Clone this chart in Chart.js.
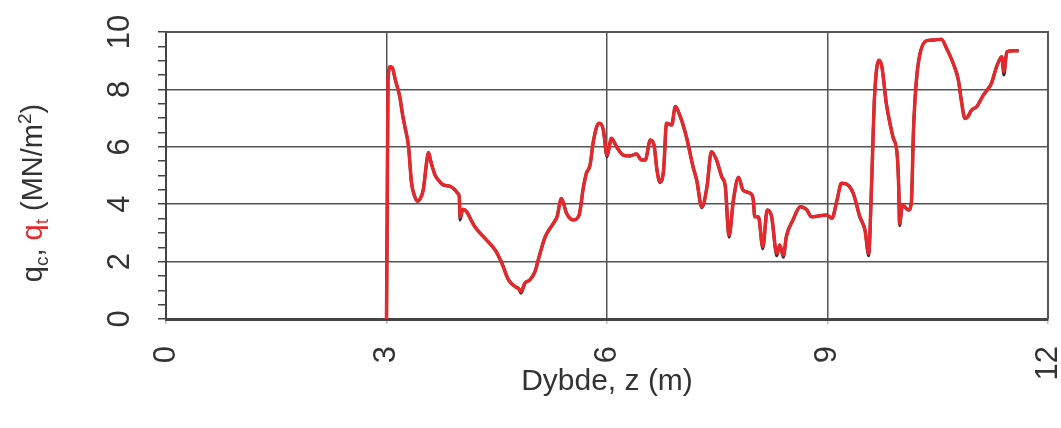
<!DOCTYPE html>
<html>
<head>
<meta charset="utf-8">
<script src="https://cdn.jsdelivr.net/npm/chart.js@4/dist/chart.umd.min.js"></script>
<style>
  html, body { margin: 0; padding: 0; background: #fff; }
  #wrap { width: 1061px; height: 428px; }
</style>
</head>
<body>
<div id="wrap"><canvas id="cpt"></canvas></div>
<script>
// CPT sounding: cone resistance vs depth
const depth = [
  3.00, 3.01, 3.02, 3.05, 3.08, 3.12, 3.18, 3.22, 3.25, 3.30,
  3.34, 3.38, 3.42, 3.46, 3.50, 3.55, 3.57, 3.61, 3.66, 3.72,
  3.77, 3.86, 3.93, 3.97, 3.99, 4.00, 4.04, 4.09, 4.15, 4.20,
  4.34, 4.48, 4.57, 4.66, 4.75, 4.80, 4.83, 4.88, 4.95, 5.02,
  5.07, 5.16, 5.27, 5.32, 5.38, 5.45, 5.54, 5.62, 5.68, 5.72,
  5.77, 5.81, 5.86, 5.90, 5.95, 6.00, 6.06, 6.13, 6.22, 6.31,
  6.40, 6.47, 6.52, 6.59, 6.64, 6.68, 6.72, 6.77, 6.81, 6.88,
  6.93, 6.99, 7.08, 7.17, 7.22, 7.29, 7.36, 7.42, 7.49, 7.56,
  7.61, 7.66, 7.72, 7.79, 7.85, 7.95, 7.99, 8.01, 8.06, 8.12,
  8.18, 8.24, 8.31, 8.35, 8.40, 8.44, 8.53, 8.63, 8.72, 8.78,
  8.90, 8.99, 9.06, 9.13, 9.19, 9.26, 9.35, 9.44, 9.51, 9.56,
  9.60, 9.64, 9.70, 9.74, 9.80, 9.89, 9.95, 9.97, 9.98, 10.02,
  10.10, 10.14, 10.17, 10.21, 10.26, 10.35, 10.45, 10.55, 10.62, 10.71,
  10.78, 10.82, 10.87, 10.91, 10.96, 11.03, 11.12, 11.19, 11.23, 11.30,
  11.35, 11.37, 11.40, 11.44, 11.53, 11.60
];

// measured cone resistance qc (MN/m2)
const qc = [
  0.00, 4.00, 8.30, 8.79, 8.75, 8.33, 7.75, 7.10, 6.70, 6.00,
  4.75, 4.30, 4.10, 4.20, 4.50, 5.54, 5.80, 5.42, 5.02, 4.80,
  4.67, 4.63, 4.50, 4.38, 4.26, 3.45, 3.82, 3.74, 3.45, 3.22,
  2.81, 2.40, 1.94, 1.36, 1.13, 1.05, 0.90, 1.24, 1.36, 1.65,
  2.11, 2.87, 3.33, 3.56, 4.20, 3.68, 3.45, 3.62, 4.61, 5.08,
  5.37, 6.12, 6.70, 6.82, 6.59, 5.65, 6.30, 6.00, 5.71, 5.68,
  5.75, 5.54, 5.54, 6.24, 6.06, 5.19, 4.75, 5.19, 6.82, 6.76,
  7.40, 7.10, 6.35, 5.31, 4.84, 3.88, 4.61, 5.83, 5.54, 4.96,
  4.61, 2.85, 4.15, 4.94, 4.49, 4.38, 4.15, 3.56, 3.56, 2.45,
  3.80, 3.56, 2.20, 2.58, 2.15, 2.87, 3.45, 3.91, 3.80, 3.56,
  3.60, 3.62, 3.51, 4.15, 4.73, 4.70, 4.38, 3.56, 3.10, 2.20,
  4.73, 7.75, 9.02, 8.79, 7.52, 6.35, 5.66, 4.49, 3.25, 3.97,
  3.80, 4.03, 6.59, 8.33, 9.26, 9.70, 9.72, 9.75, 9.43, 8.91,
  8.33, 7.63, 6.99, 7.05, 7.28, 7.40, 7.80, 8.04, 8.21, 8.79,
  9.08, 9.14, 8.50, 9.31, 9.35, 9.35
];

// corrected cone resistance qt (MN/m2)
const qt = [
  0.00, 4.00, 8.30, 8.79, 8.75, 8.33, 7.75, 7.10, 6.70, 6.00,
  4.75, 4.30, 4.12, 4.20, 4.50, 5.54, 5.80, 5.42, 5.02, 4.80,
  4.67, 4.63, 4.50, 4.38, 4.26, 3.56, 3.82, 3.74, 3.45, 3.22,
  2.81, 2.40, 1.94, 1.36, 1.13, 1.05, 0.95, 1.24, 1.36, 1.65,
  2.11, 2.87, 3.33, 3.56, 4.20, 3.68, 3.45, 3.62, 4.61, 5.08,
  5.37, 6.12, 6.70, 6.82, 6.59, 5.71, 6.30, 6.00, 5.71, 5.68,
  5.75, 5.54, 5.54, 6.24, 6.06, 5.19, 4.78, 5.19, 6.82, 6.76,
  7.40, 7.10, 6.35, 5.31, 4.84, 3.91, 4.61, 5.83, 5.54, 4.96,
  4.61, 2.93, 4.15, 4.94, 4.49, 4.38, 4.15, 3.56, 3.56, 2.52,
  3.80, 3.56, 2.29, 2.58, 2.23, 2.87, 3.45, 3.91, 3.80, 3.56,
  3.60, 3.62, 3.51, 4.15, 4.73, 4.70, 4.38, 3.56, 3.10, 2.29,
  4.73, 7.75, 9.02, 8.79, 7.52, 6.35, 5.66, 4.49, 3.33, 3.97,
  3.80, 4.03, 6.59, 8.33, 9.26, 9.70, 9.72, 9.75, 9.43, 8.91,
  8.33, 7.63, 6.99, 7.05, 7.28, 7.40, 7.80, 8.04, 8.21, 8.79,
  9.08, 9.14, 8.62, 9.31, 9.35, 9.35
];

const xTicks = [0, 3, 6, 9, 12];
const yTicks = [0, 2, 4, 6, 8, 10];

const FONT = "'Liberation Sans', Arial, sans-serif";
const INK = "#333";
const RED = "#e4282c";

const toPoints = (vals) => depth.map((z, i) => ({ x: z, y: vals[i] }));

// y-axis title with subscripts and a red q_t
const yTitle = {
  id: "yTitle",
  afterDraw(chart) {
    const ctx = chart.ctx;
    const parts = [
      { t: "q", c: INK, s: 29, dy: 0 },
      { t: "c", c: INK, s: 19, dy: 6 },
      { t: ", ", c: INK, s: 29, dy: 0 },
      { t: "q", c: RED, s: 29, dy: 0 },
      { t: "t", c: RED, s: 19, dy: 6 },
      { t: " (MN/m", c: INK, s: 29, dy: 0 },
      { t: "2", c: INK, s: 19, dy: -11 },
      { t: ")", c: INK, s: 29, dy: 0 },
    ];
    ctx.save();
    let total = 0;
    parts.forEach((p) => {
      ctx.font = p.s + "px " + FONT;
      p.w = ctx.measureText(p.t).width;
      total += p.w;
    });
    ctx.translate(42, 193);
    ctx.rotate(-Math.PI / 2);
    ctx.textBaseline = "alphabetic";
    ctx.textAlign = "left";
    let x = -total / 2;
    parts.forEach((p) => {
      ctx.font = p.s + "px " + FONT;
      ctx.fillStyle = p.c;
      ctx.fillText(p.t, x, p.dy);
      x += p.w;
    });
    ctx.restore();
  },
};

new Chart(document.getElementById("cpt"), {
  type: "line",
  data: {
    datasets: [
      {
        label: "qt",
        data: toPoints(qt),
        borderColor: RED,
        borderWidth: 3.5,
        pointRadius: 0,
        cubicInterpolationMode: "monotone",
        order: 1,
      },
      {
        label: "qc",
        data: toPoints(qc),
        borderColor: "#3b2b2b",
        borderWidth: 3,
        pointRadius: 0,
        cubicInterpolationMode: "monotone",
        order: 2,
      },
    ],
  },
  options: {
    responsive: true,
    maintainAspectRatio: false,
    animation: false,
    layout: { padding: { top: 32, right: 13, left: 0, bottom: 0 } },
    plugins: { legend: { display: false }, tooltip: { enabled: false } },
    scales: {
      x: {
        type: "linear",
        min: 0,
        max: 12,
        afterBuildTicks: (s) => { s.ticks = xTicks.map((v) => ({ value: v })); },
        afterFit: (s) => {
          s.height = 109;
          s.paddingLeft = 0;
          s.paddingRight = 0;
        },
        ticks: {
          minRotation: 90,
          maxRotation: 90,
          padding: 22,
          color: INK,
          font: { family: FONT, size: 31 },
        },
        grid: {
          color: (c) => (c.tick.value === 0 || c.tick.value === 12 ? "rgba(0,0,0,0)" : "#555"),
          lineWidth: 1.5,
          tickLength: 5,
          tickColor: "#bbb",
        },
        border: { color: "#444", width: 3 },
        title: {
          display: true,
          text: "Dybde, z (m)",
          color: INK,
          font: { family: FONT, size: 30 },
          padding: { bottom: 28, top: 0 },
        },
      },
      y: {
        min: 0,
        max: 10,
        afterBuildTicks: (s) => {
          const t = [];
          for (let v = 0; v <= 10; v += 0.5) t.push({ value: v });
          s.ticks = t;
        },
        afterFit: (s) => {
          s.width = 166;
          s.paddingTop = 0;
          s.paddingBottom = 0;
        },
        ticks: {
          autoSkip: false,
          minRotation: 90,
          maxRotation: 90,
          crossAlign: "center",
          padding: 20,
          color: INK,
          font: { family: FONT, size: 31 },
          callback: (v) => (yTicks.includes(v) ? String(v) : ""),
        },
        grid: {
          color: (c) => (yTicks.includes(c.tick.value) && c.tick.value !== 0 && c.tick.value !== 10 ? "#555" : "rgba(0,0,0,0)"),
          lineWidth: 1.5,
          tickLength: 8,
          tickColor: "#444",
          tickWidth: 1.5,
        },
        border: { color: "#444", width: 2 },
      },
    },
  },
  plugins: [
    yTitle,
    {
      // top and right frame of the plot area
      id: "frame",
      afterDraw(chart) {
        const { ctx, chartArea: a } = chart;
        ctx.save();
        ctx.strokeStyle = "#555";
        ctx.lineWidth = 2;
        ctx.beginPath();
        ctx.moveTo(a.left, a.top);
        ctx.lineTo(a.right, a.top);
        ctx.lineTo(a.right, a.bottom);
        ctx.stroke();
        ctx.restore();
      },
    },
  ],
});
</script>
</body>
</html>
